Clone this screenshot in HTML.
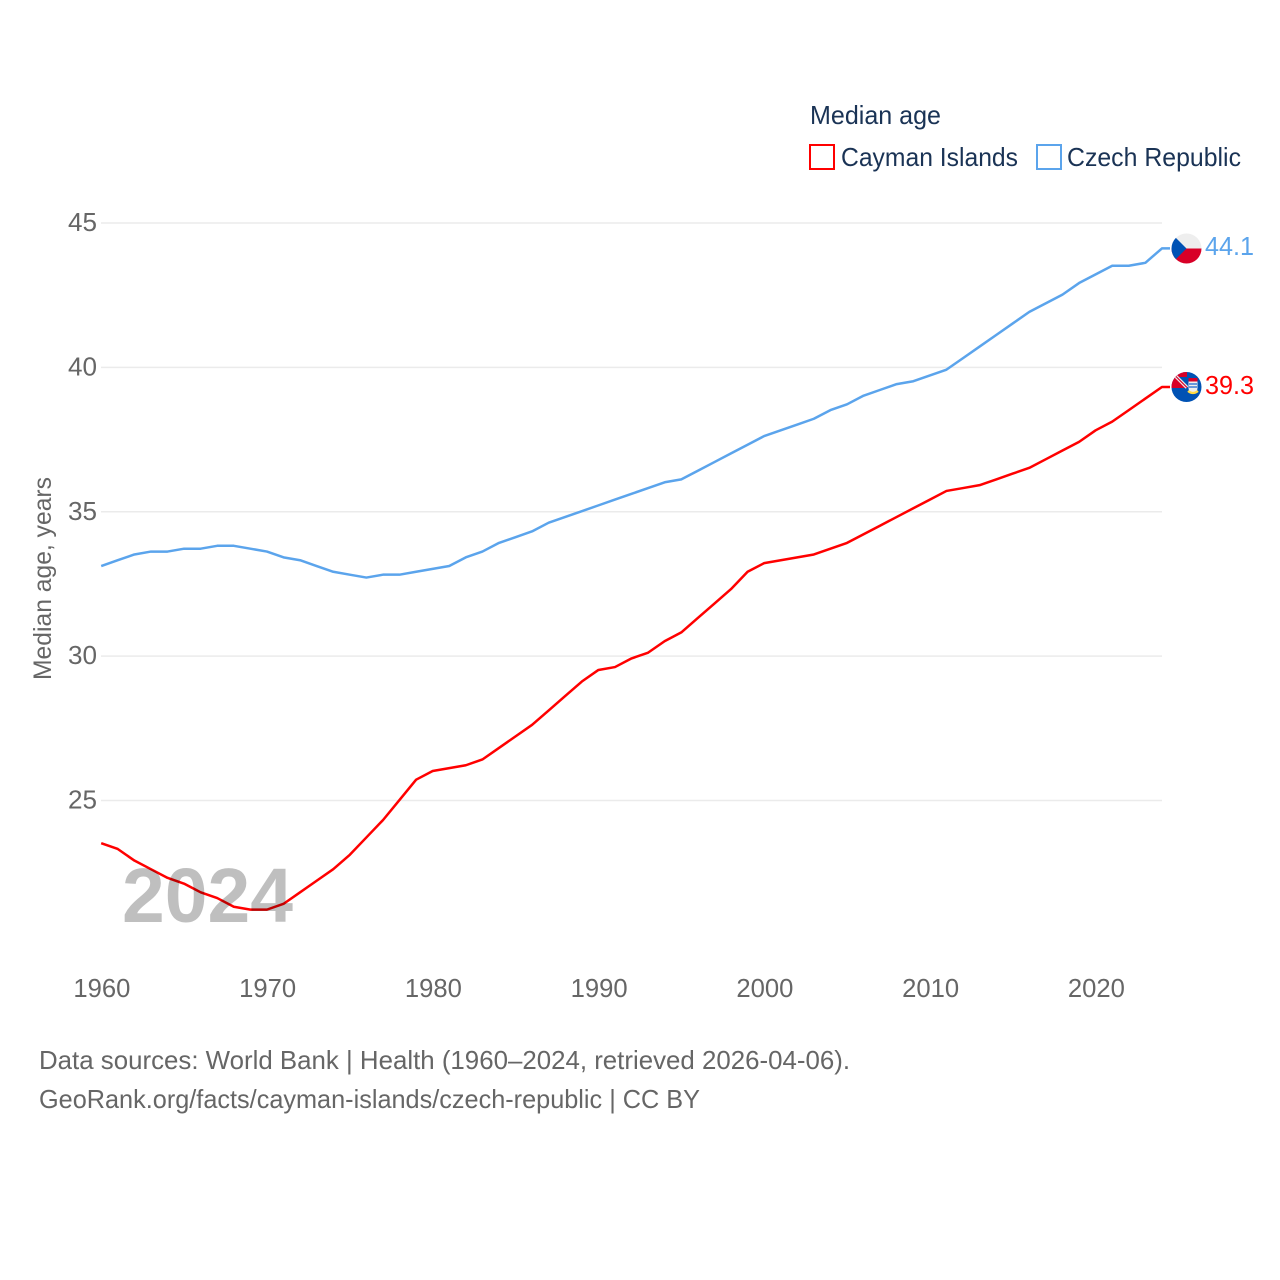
<!DOCTYPE html>
<html lang="en">
<head>
<meta charset="utf-8">
<title>Median age: Cayman Islands and Czech Republic</title>
<style>
html,body{margin:0;padding:0;background:#fff;}
svg{display:block;}
text{font-family:"Liberation Sans",sans-serif;}
</style>
</head>
<body>
<svg id="chart" xmlns="http://www.w3.org/2000/svg" width="1280" height="1280" viewBox="0 0 1280 1280">
  <defs>
    <clipPath id="clip-cz"><circle cx="1186.500" cy="248.500" r="15"/></clipPath>
    <clipPath id="clip-ky"><circle cx="1186.500" cy="387" r="15"/></clipPath>
  </defs>
  <rect x="0" y="0" width="1280" height="1280" fill="#fff"/>
  <g id="grid"></g>
  <g id="yticks"></g>
  <g id="xticks"></g>
  <text transform="translate(51,680) rotate(-90)" font-size="25" fill="#666" textLength="203" lengthAdjust="spacingAndGlyphs">Median age, years</text>
  <g id="series"></g>
  <text x="122" y="922" font-size="77" font-weight="700" fill="#000" fill-opacity="0.25" textLength="171" lengthAdjust="spacingAndGlyphs">2024</text>

  <g>
    <text x="810" y="124" font-size="26" fill="#1a3355" textLength="131" lengthAdjust="spacingAndGlyphs">Median age</text>
    <rect x="810" y="145" width="24" height="24" fill="#fff" stroke="#ff0000" stroke-width="2"/>
    <text x="841" y="166" font-size="26" fill="#1a3355" textLength="177" lengthAdjust="spacingAndGlyphs">Cayman Islands</text>
    <rect x="1037" y="145" width="24" height="24" fill="#fff" stroke="#5ba4ec" stroke-width="2"/>
    <text x="1067" y="166" font-size="26" fill="#1a3355" textLength="174" lengthAdjust="spacingAndGlyphs">Czech Republic</text>
  </g>

  <g clip-path="url(#clip-cz)">
    <rect x="1171" y="233" width="31" height="15.500" fill="#eeeeee"/>
    <rect x="1171" y="248.500" width="31" height="15.500" fill="#d80027"/>
    <path d="M1171.500 233.500 L1186.500 248.500 L1171.500 263.500 Z" fill="#0052b4"/>
  </g>
  <g clip-path="url(#clip-ky)">
    <rect x="1171" y="372" width="31" height="31" fill="#0052b4"/>
    <rect x="1171" y="372" width="16" height="16" fill="#d80027"/>
    <path d="M1176.500 377 H1187 V387 Z" fill="#0052b4"/>
    <path d="M1176 376.500 L1187 387.500" stroke="#eeeeee" stroke-width="3.500"/>
    <path d="M1176 376.500 L1187 387.500" stroke="#d80027" stroke-width="1.200"/>
    <path d="M1188.500 378 h9 v10 q0 4 -4.500 6 q-4.500 -2 -4.500 -6 Z" fill="#eeeeee"/>
    <rect x="1188.500" y="378" width="9" height="3.500" fill="#d80027"/>
    <path d="M1189 384 h8 M1189 387 h8" stroke="#3a7bd5" stroke-width="1.400"/>
    <path d="M1188 391 q5 4 10 0" stroke="#ffda44" stroke-width="2.200" fill="none"/>
  </g>
  <text x="1205" y="255" font-size="26" fill="#5ba4ec" textLength="49" lengthAdjust="spacingAndGlyphs">44.1</text>
  <text x="1205" y="394" font-size="26" fill="#ff0000" textLength="49" lengthAdjust="spacingAndGlyphs">39.3</text>

  <text x="39" y="1069" font-size="26" fill="#666" textLength="811" lengthAdjust="spacingAndGlyphs">Data sources: World Bank | Health (1960–2024, retrieved 2026-04-06).</text>
  <a><text x="39" y="1108" font-size="26" fill="#666" textLength="661" lengthAdjust="spacingAndGlyphs">GeoRank.org/facts/cayman-islands/czech-republic | CC BY</text></a>
</svg>
<script>
const years = [];
for (let yr = 1960; yr <= 2024; yr++) years.push(yr);
const caymanIslands = [23.5,23.3,22.9,22.6,22.3,22.1,21.8,21.6,21.3,21.2,21.2,21.4,21.8,22.2,22.6,23.1,23.7,24.3,25.0,25.7,26.0,26.1,26.2,26.4,26.8,27.2,27.6,28.1,28.6,29.1,29.5,29.6,29.9,30.1,30.5,30.8,31.3,31.8,32.3,32.9,33.2,33.3,33.4,33.5,33.7,33.9,34.2,34.5,34.8,35.1,35.4,35.7,35.8,35.9,36.1,36.3,36.5,36.8,37.1,37.4,37.8,38.1,38.5,38.9,39.3];
const czechRepublic = [33.1,33.3,33.5,33.6,33.6,33.7,33.7,33.8,33.8,33.7,33.6,33.4,33.3,33.1,32.9,32.8,32.7,32.8,32.8,32.9,33.0,33.1,33.4,33.6,33.9,34.1,34.3,34.6,34.8,35.0,35.2,35.4,35.6,35.8,36.0,36.1,36.4,36.7,37.0,37.3,37.6,37.8,38.0,38.2,38.5,38.7,39.0,39.2,39.4,39.5,39.7,39.9,40.3,40.7,41.1,41.5,41.9,42.2,42.5,42.9,43.2,43.5,43.5,43.6,44.1];
const yTickValues = [25,30,35,40,45];
const xTickValues = [1960,1970,1980,1990,2000,2010,2020];

const xScale = function (year) { return 101.2 + (year - 1960) * 16.574; };
const yScale = function (value) { return 222.4 + (45 - value) * 28.875; };
const NS = 'http://www.w3.org/2000/svg';
const gridGroup = document.getElementById('grid');
const yTickGroup = document.getElementById('yticks');
const xTickGroup = document.getElementById('xticks');
const seriesGroup = document.getElementById('series');

yTickValues.forEach(function (tick) {
  const line = document.createElementNS(NS, 'line');
  
  
  line.setAttribute('x1', 101);
  line.setAttribute('x2', 1162);
  line.setAttribute('y1', yScale(tick) + 0.6);
  line.setAttribute('y2', yScale(tick) + 0.6);
  line.setAttribute('stroke', '#ebebeb');
  line.setAttribute('stroke-width', '1.5');
  gridGroup.appendChild(line);

  const label = document.createElementNS(NS, 'text');
  
  
  label.setAttribute('x', 97);
  label.setAttribute('y', yScale(tick) + 8.6);
  label.setAttribute('text-anchor', 'end');
  label.setAttribute('font-size', '26');
  label.setAttribute('fill', '#666');
  label.setAttribute('textLength', '29');
  label.setAttribute('lengthAdjust', 'spacingAndGlyphs');
  label.textContent = tick;
  yTickGroup.appendChild(label);
});

xTickValues.forEach(function (tick) {
  const label = document.createElementNS(NS, 'text');
  
  
  label.setAttribute('x', xScale(tick) - 27.8);
  label.setAttribute('y', 997);
  label.setAttribute('font-size', '26');
  label.setAttribute('fill', '#666');
  label.setAttribute('textLength', '57');
  label.setAttribute('lengthAdjust', 'spacingAndGlyphs');
  label.textContent = tick;
  xTickGroup.appendChild(label);
});

function drawSeries(values, color, name) {
  const path = document.createElementNS(NS, 'path');
  
  
  let d = '';
  years.forEach(function (year, i) {
    d += (i ? 'L' : 'M') + xScale(year).toFixed(2) + ' ' + yScale(values[i]).toFixed(2);
  });
  d += 'L1170 ' + yScale(values[years.length - 1]).toFixed(2);
  path.setAttribute('d', d);
  path.setAttribute('fill', 'none');
  path.setAttribute('stroke', color);
  path.setAttribute('stroke-width', '2.5');
  path.setAttribute('stroke-linejoin', 'round');
  seriesGroup.appendChild(path);
}
drawSeries(caymanIslands, '#ff0000', 'line-cayman-islands');
drawSeries(czechRepublic, '#5ba4ec', 'line-czech-republic');
</script>
</body>
</html>
